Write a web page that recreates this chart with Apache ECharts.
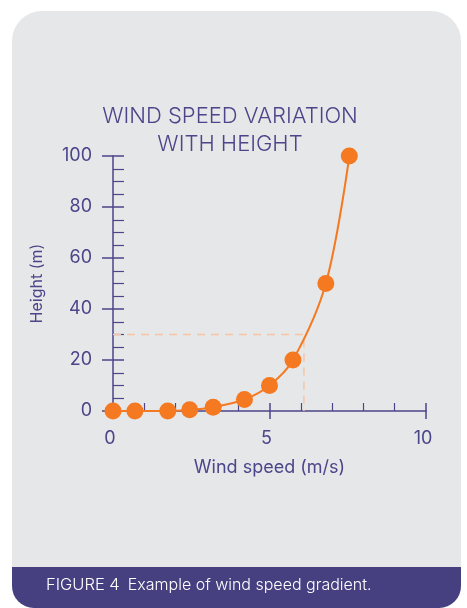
<!DOCTYPE html>
<html>
<head>
<meta charset="utf-8">
<script src="https://cdn.jsdelivr.net/npm/echarts@6/dist/echarts.min.js"></script>
<style>
html, body { margin: 0; padding: 0; background: #ffffff; }
#chart { width: 467px; height: 608px; }
</style>
</head>
<body>
<div id="chart"></div>
<script>
// wind speed (m/s) vs height (m)
var windSpeed = [0, 0.7, 1.75, 2.45, 3.2, 4.2, 5, 5.75, 6.8, 7.55];
var height = [0, 0, 0, 0.5, 1.5, 4.5, 10, 20, 50, 100];
// dashed guide: 30 m -> ~6.1 m/s
var guideX = [0, 6.1, 6.1];
var guideY = [30, 30, 0];

var purple = "#4b4589";
var orange = "#f47920";
var font = "Inter, Roboto, sans-serif";

var curve = windSpeed.map(function (v, i) { return [v, height[i]]; });
var guide = guideX.map(function (v, i) { return [v, guideY[i]]; });

var chart = echarts.init(document.getElementById("chart"));

function axisLine() {
    return { show: true, lineStyle: { color: purple, width: 1.5 } };
}

var option = {
    backgroundColor: "#ffffff",
    animation: false,
    title: {
        text: "WIND SPEED VARIATION\nWITH HEIGHT",
        left: 225,
        textAlign: "center",
        top: 97,
        textStyle: {
            color: purple,
            fontFamily: font,
            fontWeight: 300,
            fontSize: 22,
            lineHeight: 28,
        },
    },
    graphic: [
        {
            type: "rect",
            z: -10,
            shape: { x: 12, y: 11, width: 449, height: 597, r: [30, 30, 22, 22] },
            style: { fill: "#e6e7e9" },
        },
        {
            type: "rect",
            z: -9,
            shape: { x: 12, y: 567, width: 449, height: 41, r: [0, 0, 22, 22] },
            style: { fill: "#463f80" },
        },
        {
            type: "text",
            z: 5,
            left: 46,
            top: 577,
            style: {
                text: "{a|FIGURE 4}{b|Example of wind speed gradient.}",
                rich: {
                    a: { fontSize: 16.5, fill: "#ffffff", fontFamily: font, fontWeight: 300, padding: [0, 8, 0, 0] },
                    b: { fontSize: 16, fill: "#ffffff", fontFamily: font, fontWeight: 300 },
                },
            },
        },
    ],
    grid: { left: 113, right: 41, top: 156, bottom: 197 },
    xAxis: [
        {
            type: "value",
            min: 0,
            max: 10,
            interval: 5,
            name: "Wind speed (m/s)",
            nameLocation: "middle",
            nameGap: 48,
            nameTextStyle: { color: purple, fontFamily: font, fontSize: 18 },
            axisLine: axisLine(),
            axisTick: { show: true, inside: true, length: 8, lineStyle: { color: purple, width: 1.5 } },
            minorTick: { show: true, splitNumber: 5, length: 8, lineStyle: { color: purple, width: 1.2 } },
            axisLabel: { color: purple, fontFamily: font, fontSize: 18, margin: 19, padding: [0, 6, 0, 0] },
            splitLine: { show: false },
        },
        {
            type: "value",
            position: "bottom",
            min: 0,
            max: 10,
            interval: 5,
            axisLine: { show: false },
            axisTick: { show: true, length: 8, lineStyle: { color: purple, width: 1.5 } },
            axisLabel: { show: false },
            splitLine: { show: false },
        },
    ],
    yAxis: [
        {
            type: "value",
            min: 0,
            max: 100,
            interval: 20,
            name: "Height (m)",
            nameLocation: "middle",
            nameGap: 68,
            nameTextStyle: { color: purple, fontFamily: font, fontSize: 16 },
            axisLine: axisLine(),
            axisTick: { show: true, inside: true, length: 11, lineStyle: { color: purple, width: 1.5 } },
            minorTick: { show: true, splitNumber: 4, length: 11, lineStyle: { color: purple, width: 1.2 } },
            axisLabel: { color: purple, fontFamily: font, fontSize: 18, margin: 21 },
            splitLine: { show: false },
        },
        {
            type: "value",
            position: "left",
            min: 0,
            max: 100,
            interval: 20,
            axisLine: { show: false },
            axisTick: { show: true, length: 11, lineStyle: { color: purple, width: 1.5 } },
            axisLabel: { show: false },
            splitLine: { show: false },
        },
    ],
    series: [
        {
            type: "line",
            data: guide,
            symbol: "none",
            silent: true,
            z: 1,
            lineStyle: { color: "#f7c4a5", width: 1.5, type: [8, 6] },
        },
        {
            type: "line",
            data: curve,
            smooth: 0.35,
            symbol: "circle",
            symbolSize: 17,
            z: 3,
            itemStyle: { color: orange },
            lineStyle: { color: orange, width: 2 },
        },
    ],
};

chart.setOption(option);
</script>
</body>
</html>
